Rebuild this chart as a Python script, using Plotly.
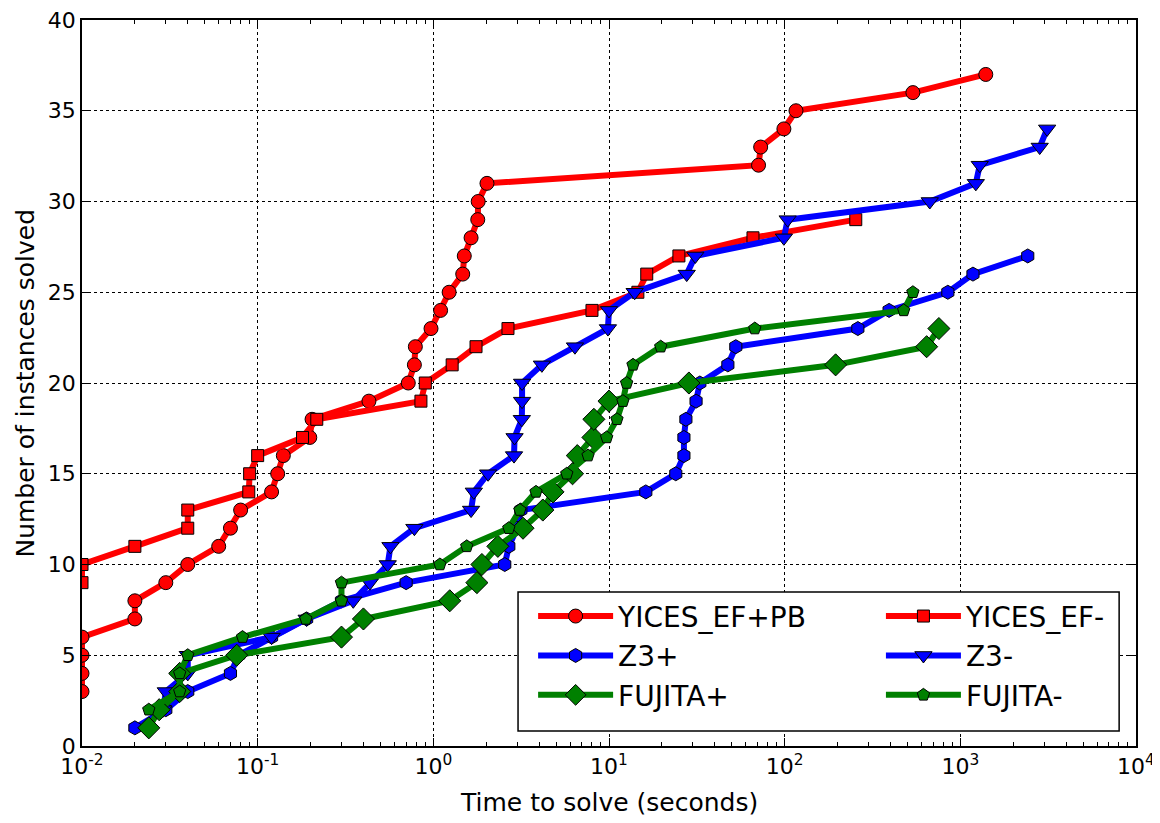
import plotly.graph_objects as go

# ---- data (time in seconds, cumulative number of instances solved) ----
yices_pb_x = [0.01, 0.01, 0.01, 0.01, 0.02, 0.02, 0.03, 0.04, 0.06, 0.07, 0.08, 0.12, 0.13, 0.14,
              0.198, 0.204, 0.43, 0.72, 0.78, 0.79, 0.97, 1.1, 1.23, 1.47, 1.5, 1.64, 1.79, 1.8,
              2.02, 71, 73, 99, 116, 537, 1396]
yices_pb_y = list(range(3, 38))

yices_m_x = [0.01, 0.01, 0.02, 0.04, 0.04, 0.089, 0.09, 0.1, 0.18, 0.217, 0.85, 0.9, 1.28, 1.75,
             2.66, 8.0, 14.6, 16.4, 25, 66, 254]
yices_m_y = list(range(9, 30))

z3p_x = [0.02, 0.03, 0.04, 0.07, 0.078, 0.12, 0.19, 0.3, 0.7, 2.55, 2.69, 3.0, 3.15, 16.2, 24,
         26.7, 26.7, 27.4, 31.3, 32.9, 47.5, 52.7, 261, 393, 849, 1180, 2420]
z3p_y = list(range(1, 28))

z3m_x = [0.029, 0.03, 0.04, 0.04, 0.12, 0.19, 0.35, 0.435, 0.55, 0.57, 0.78, 1.64, 1.7, 2.05,
         2.88, 2.9, 3.19, 3.2, 3.2, 4.15, 6.4, 9.86, 10, 14, 27.7, 31, 99, 104, 670, 1225, 1290,
         2830, 3120]
z3m_y = list(range(2, 35))

fujp_x = [0.024, 0.0275, 0.036, 0.036, 0.076, 0.3, 0.4, 1.24, 1.77, 1.89, 2.33, 3.24, 4.2, 4.8,
          6.2, 6.6, 8.1, 8.2, 10, 28.5, 195, 643, 755]
fujp_y = list(range(1, 24))

fujm_x = [0.024, 0.036, 0.036, 0.04, 0.082, 0.188, 0.3, 0.3, 1.09, 1.55, 2.69, 3.11, 3.84, 5.75,
          7.6, 9.7, 11.1, 12, 12.6, 13.7, 19.7, 67.6, 476, 537]
fujm_y = list(range(2, 26))

x_tickvals = [0.01, 0.1, 1, 10, 100, 1000, 10000]
x_ticktext = ["10<sup>-2</sup>", "10<sup>-1</sup>", "10<sup>0</sup>", "10<sup>1</sup>",
              "10<sup>2</sup>", "10<sup>3</sup>", "10<sup>4</sup>"]
y_tickvals = [0, 5, 10, 15, 20, 25, 30, 35, 40]

series = [
    ("YICES_EF+PB", yices_pb_x, yices_pb_y, "#ff0000", "circle", 14, "legend"),
    ("YICES_EF-", yices_m_x, yices_m_y, "#ff0000", "square", 12, "legend2"),
    ("Z3+", z3p_x, z3p_y, "#0000ff", "hexagon", 14, "legend"),
    ("Z3-", z3m_x, z3m_y, "#0000ff", "triangle-down", 15, "legend2"),
    ("FUJITA+", fujp_x, fujp_y, "#008000", "diamond", 17, "legend"),
    ("FUJITA-", fujm_x, fujm_y, "#008000", "pentagon", 13, "legend2"),
]

FONT = "DejaVu Sans"
fig = go.Figure()
for name, xs, ys, col, sym, sz, leg in series:
    fig.add_trace(go.Scatter(
        x=xs, y=ys, mode="lines+markers", name=name, legend=leg, legendgroup=name,
        line=dict(color=col, width=6),
        marker=dict(symbol=sym, size=sz, color=col, line=dict(color="black", width=1)),
    ))

minor_vals = [m * 10 ** e for e in range(-2, 4) for m in range(2, 10)]

axis_common = dict(
    showline=True, linecolor="black", linewidth=1.5, mirror="allticks",
    ticks="inside", ticklen=8, tickwidth=1, tickcolor="black",
    showgrid=True, gridcolor="black", griddash="dot", gridwidth=1,
    zeroline=False, automargin=False, ticklabeloverflow="allow",
    tickfont=dict(family=FONT, size=22, color="black"),
)

fig.update_xaxes(
    type="log", range=[-2, 4], tickmode="array", tickvals=x_tickvals, ticktext=x_ticktext,
    minor=dict(tickmode="array", tickvals=minor_vals, ticks="inside", ticklen=4,
               tickcolor="black", showgrid=False),
    **axis_common,
)
fig.update_yaxes(range=[0, 40], tickmode="array", tickvals=y_tickvals, **axis_common)

legend_common = dict(
    font=dict(family=FONT, size=28, color="black"), bgcolor="rgba(0,0,0,0)", borderwidth=0,
    yanchor="top", xanchor="left", tracegroupgap=6, itemwidth=75, traceorder="normal",
)
fig.update_layout(
    width=1152, height=815,
    margin=dict(l=74, r=24, t=12, b=77),
    paper_bgcolor="white", plot_bgcolor="white",
    legend=dict(x=0.428, y=0.213, **legend_common),
    legend2=dict(x=0.758, y=0.213, **legend_common),
    shapes=[dict(type="rect", xref="paper", yref="paper", x0=0.4137, x1=0.984, y0=0.0207,
                 y1=0.2121, line=dict(color="black", width=1.5), fillcolor="white",
                 layer="above")],
    annotations=[
        dict(text="Time to solve (seconds)", xref="paper", yref="paper", x=0.5, y=-0.078,
             xanchor="center", yanchor="middle", showarrow=False,
             font=dict(family=FONT, size=25, color="black")),
        dict(text="Number of instances solved", xref="paper", yref="paper", x=-0.0545, y=0.5,
             xanchor="center", yanchor="middle", showarrow=False, textangle=-90,
             font=dict(family=FONT, size=25, color="black")),
    ],
)

fig.write_html("out.html")
